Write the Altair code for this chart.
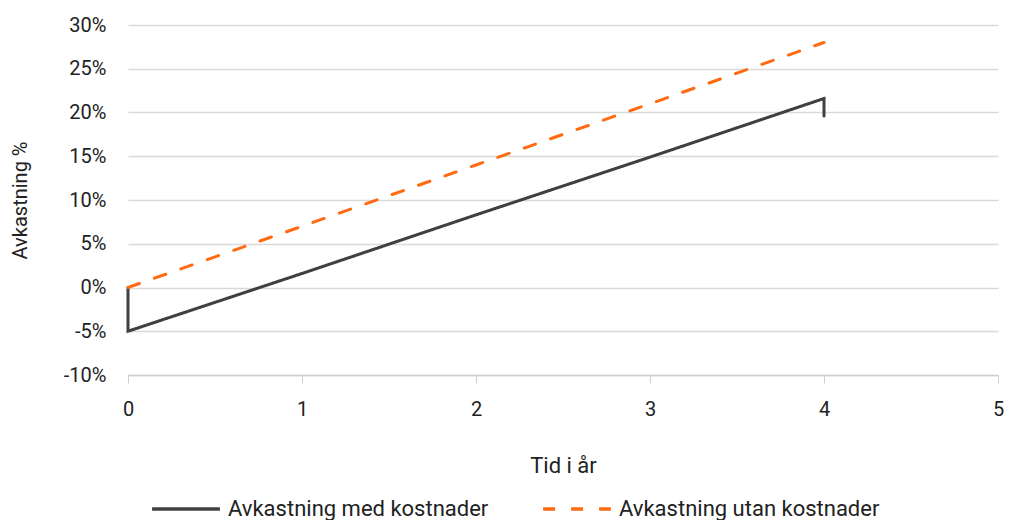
import altair as alt
import pandas as pd

series_med = "Avkastning med kostnader"
series_utan = "Avkastning utan kostnader"

years_med = [0, 0, 1, 2, 3, 4, 4]
vals_med = [0.0, -5.0, 1.6, 8.3, 14.9, 21.6, 19.6]
years_utan = [0, 1, 2, 3, 4]
vals_utan = [0.0, 7.0, 14.0, 21.0, 28.0]

rows = []
for i, (x, v) in enumerate(zip(years_med, vals_med)):
    rows.append({"tid": x, "avk": v / 100, "serie": series_med, "ordning": i})
for i, (x, v) in enumerate(zip(years_utan, vals_utan)):
    rows.append({"tid": x, "avk": v / 100, "serie": series_utan, "ordning": i})
df = pd.DataFrame(rows)

FONT = "Roboto"

chart = alt.Chart(df).mark_line(strokeWidth=3, strokeCap="round").encode(
    x=alt.X("tid:Q", title="Tid i år",
            scale=alt.Scale(domain=[0, 5], nice=False),
            axis=alt.Axis(values=[0, 1, 2, 3, 4, 5], format="d", grid=False, labelFlush=False,
                          labelPadding=16, titlePadding=36, tickSize=8, titleFontSize=22,
                          tickColor="#d0d0d0", domainColor="#d0d0d0", domainWidth=1.5)),
    y=alt.Y("avk:Q", title="Avkastning %",
            scale=alt.Scale(domain=[-0.10, 0.30], nice=False),
            axis=alt.Axis(values=[-0.10, -0.05, 0, 0.05, 0.10, 0.15, 0.20, 0.25, 0.30],
                          format=".0%", labelExpr="replace(datum.label, '\u2212', '-')",
                          domain=False, ticks=False, labelPadding=22,
                          titlePadding=33, gridColor="#d9d9d9", gridWidth=1.5)),
    color=alt.Color("serie:N",
                    scale=alt.Scale(domain=[series_med, series_utan], range=["#404040", "#ff6a13"]),
                    legend=alt.Legend(title=None, orient="none", legendX=22, legendY=448,
                                      direction="horizontal", symbolType="stroke",
                                      symbolSize=4600, symbolStrokeWidth=3.5,
                                      columnPadding=47, labelOffset=6)),
    strokeDash=alt.StrokeDash("serie:N",
                              scale=alt.Scale(domain=[series_med, series_utan], range=[[1, 0], [12, 16]]),
                              legend=None),
    order="ordning:Q",
).properties(
    width=870, height=350,
    autosize=alt.AutoSizeParams(type="none"),
    padding={"left": 120, "top": 17, "right": 7, "bottom": 145},
).configure_view(stroke=None).configure_axis(
    labelFont=FONT, titleFont=FONT, labelFontSize=20, titleFontSize=20,
    labelColor="#222222", titleColor="#222222", titleFontWeight="normal",
).configure_legend(labelFont=FONT, labelFontSize=22, labelColor="#222222", labelLimit=400)

chart.save("out.html", embed_options={"renderer": "svg", "actions": False})
